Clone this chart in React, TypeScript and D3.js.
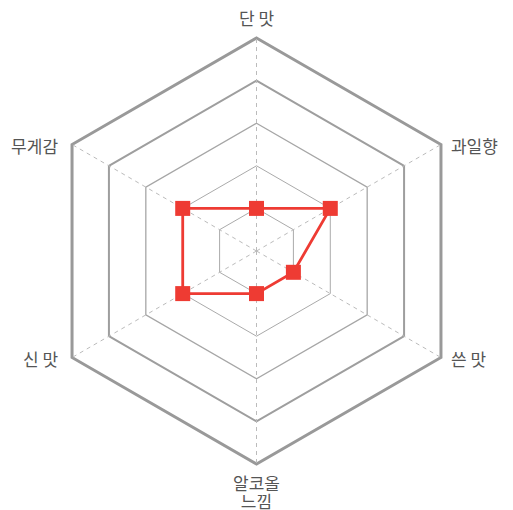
import React from "react";
import * as d3 from "d3";

const categories: string[][] = [["단 맛"], ["과일향"], ["쓴 맛"], ["알코올", "느낌"], ["신 맛"], ["무게감"]];
const values: number[] = [1, 2, 1, 1, 2, 2];
const levels: number[] = [1, 2, 3, 4, 5];
const maxValue = 5;

export default function App() {
  const W = 513, H = 510;
  const cx = 256.5, cy = 251, R = 213;
  const r = d3.scaleLinear().domain([0, maxValue]).range([0, R]);
  const n = categories.length;
  const angle = (i: number) => (i * 2 * Math.PI) / n;
  const pt = (i: number, v: number): [number, number] => [
    cx + r(v) * Math.sin(angle(i)),
    cy - r(v) * Math.cos(angle(i)),
  ];
  const ringWidths = [1, 1, 1.3, 2, 3];
  const ringColors = ["#aaa", "#aaa", "#a6a6a6", "#9e9e9e", "#999"];
  const line = d3.line<[number, number]>().curve(d3.curveLinearClosed);
  const dataPts = values.map((v, i) => pt(i, v));
  const ms = 15;
  const font = "'Noto Sans CJK KR', 'Noto Sans', sans-serif";

  const labelPos = (i: number) => {
    const [x, y] = pt(i, maxValue);
    const s = Math.sin(angle(i));
    let anchor: "middle" | "start" | "end" = "middle";
    let lx = x;
    let ly = y;
    if (s > 0.1) {
      anchor = "start";
      lx = x + 10;
    } else if (s < -0.1) {
      anchor = "end";
      lx = x - 14;
    }
    if (i === 0) ly = y - 21;
    if (i === 3) ly = y + 18;
    return { lx, ly, anchor };
  };

  return (
    <svg width={W} height={H} style={{ position: "absolute", left: 0, top: 0 }}>
      <rect width={W} height={H} fill="#fff" />
      {levels.map((lv, k) => (
        <path
          key={lv}
          d={line(d3.range(n).map((i) => pt(i, lv))) || ""}
          fill="none"
          stroke={ringColors[k]}
          strokeWidth={ringWidths[k]}
        />
      ))}
      {d3.range(n).map((i) => {
        const [x, y] = pt(i, maxValue);
        return (
          <line key={i} x1={cx} y1={cy} x2={x} y2={y} stroke="#bbb" strokeWidth={1} strokeDasharray="4,4" />
        );
      })}
      <path d={line(dataPts) || ""} fill="none" stroke="#ee3b33" strokeWidth={2.8} />
      {dataPts.map(([x, y], i) => (
        <rect key={i} x={x - ms / 2} y={y - ms / 2} width={ms} height={ms} fill="#ee3b33" />
      ))}
      {categories.map((lines, i) => {
        const { lx, ly, anchor } = labelPos(i);
        return (
          <text
            key={i}
            x={lx}
            y={ly}
            textAnchor={anchor}
            dominantBaseline="central"
            fontFamily={font}
            fontSize={17}
            fill="#555"
          >
            {lines.map((t, j) => (
              <tspan key={j} x={lx} dy={j === 0 ? 0 : 18}>
                {t}
              </tspan>
            ))}
          </text>
        );
      })}
    </svg>
  );
}
